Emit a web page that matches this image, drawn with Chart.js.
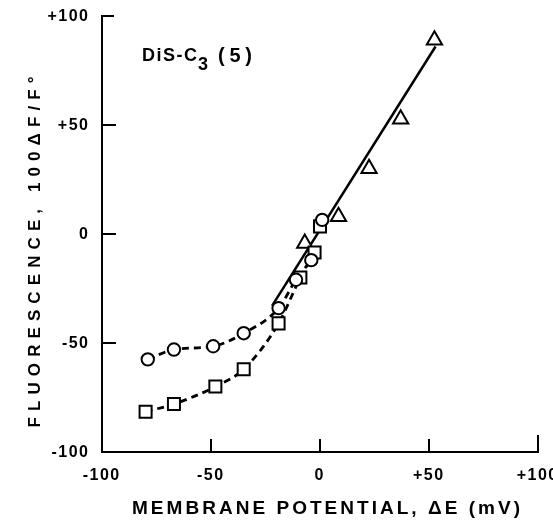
<!DOCTYPE html>
<html>
<head>
<meta charset="utf-8">
<script src="https://cdn.jsdelivr.net/npm/chart.js@4"></script>
<style>
	html, body { margin: 0; padding: 0; background: #fff; }
	canvas { display: block; }
</style>
</head>
<body>
<canvas id="chart" width="553" height="520"></canvas>
<script>
// values (x = membrane potential mV, y = 100 dF/F0)
const circleX = [-79, -67, -49, -35, -19, -11, -4, 1];
const circleY = [-57.5, -53, -51.5, -45.5, -34, -21, -12, 6.5];
const squareX = [-80, -67, -48, -35, -19, -9, -2.5, 0];
const squareY = [-81.5, -78, -70, -62, -41, -20, -8.5, 3.5];
const triangleX = [-7, 8.5, 22.5, 37, 52.5];
const triangleY = [-4.3, 8, 30, 52.7, 89];
const fitX = [-22, 53];
const fitY = [-33, 86];
// dashed curves run through the markers up to where they join the solid line
const circleCurveEnd = 7;
const squareCurveEnd = 7;

const xTicks = [-100, -50, 0, 50, 100];
const yTicks = [-100, -50, 0, 50, 100];

const xTitle = "MEMBRANE POTENTIAL, \u0394E (mV)";
const yTitle = "FLUORESCENCE, 100\u0394F/F\u00b0";

const FONT = '"Liberation Sans", Arial, sans-serif';

function pts(xs, ys, n){
	const out = [];
	const len = n || xs.length;
	for(let i = 0; i < len; i++){
		out.push({x: xs[i], y: ys[i]});
	}
	return out;
}

function fmt(v){
	return v > 0 ? "+" + v : String(v);
}

// draw text with the letters spread out to a given width
function spaced(ctx, text, x, y, width, align){
	const chars = Array.from(text);
	const widths = chars.map(c => ctx.measureText(c).width);
	const natural = widths.reduce((a, b) => a + b, 0);
	const gap = chars.length > 1 ? (width - natural) / (chars.length - 1) : 0;
	let cx = align == "center" ? x - width / 2 : (align == "right" ? x - width : x);
	ctx.textAlign = "left";
	chars.forEach((c, i) => {
		ctx.fillText(c, cx, y);
		cx += widths[i] + gap;
	});
}

const frame = {
	id: "frame",
	afterDraw(chart){
		const ctx = chart.ctx;
		const xs = chart.scales.x;
		const ys = chart.scales.y;
		const left = xs.left;
		const bottom = ys.bottom;

		ctx.save();
		ctx.strokeStyle = "#000";
		ctx.fillStyle = "#000";
		ctx.lineWidth = 2;
		ctx.lineCap = "square";

		// spines
		ctx.beginPath();
		ctx.moveTo(left, ys.getPixelForValue(100));
		ctx.lineTo(left, bottom);
		ctx.lineTo(xs.getPixelForValue(100), bottom);
		ctx.stroke();

		// inward ticks
		ctx.beginPath();
		yTicks.forEach(v => {
			if(v == -100) return;
			const py = ys.getPixelForValue(v);
			ctx.moveTo(left, py);
			ctx.lineTo(left + (v == 100 ? 11 : 13), py);
		});
		xTicks.forEach(v => {
			if(v == -100) return;
			const px = xs.getPixelForValue(v);
			ctx.moveTo(px, bottom);
			ctx.lineTo(px, bottom - (v == 100 ? 16 : 12));
		});
		ctx.stroke();

		// tick labels
		ctx.font = "bold 16px " + FONT;
		ctx.textBaseline = "middle";
		xTicks.forEach(v => {
			const s = fmt(v);
			const w = ctx.measureText(s).width + (s.length - 1) * 1.5;
			spaced(ctx, s, xs.getPixelForValue(v) - 1, 476, w, "center");
		});
		yTicks.forEach(v => {
			const s = fmt(v);
			const w = ctx.measureText(s).width + (s.length - 1) * 1.5;
			spaced(ctx, s, 88, ys.getPixelForValue(v) + 1, w, "right");
		});

		// axis titles
		ctx.font = "bold 19px " + FONT;
		spaced(ctx, xTitle, 326, 509, 388, "center");

		ctx.save();
		ctx.translate(34, 252);
		ctx.rotate(-Math.PI / 2);
		ctx.font = "bold 17px " + FONT;
		spaced(ctx, yTitle, 0, 1, 351, "center");
		ctx.restore();

		// dye label
		ctx.textBaseline = "alphabetic";
		ctx.font = "bold 18px " + FONT;
		spaced(ctx, "DiS-C", 142, 61, 55, "left");
		ctx.fillText("3", 198, 70);
		ctx.font = "bold 20px " + FONT;
		spaced(ctx, "(5)", 218, 62, 34, "left");

		ctx.restore();
	}
};

const marker = {
	borderColor: "#000",
	backgroundColor: "#fff",
	pointBorderWidth: 2,
	showLine: false,
	order: 0,
};

new Chart(document.getElementById("chart"), {
	type: "scatter",
	data: {
		datasets: [
			{
				data: pts(fitX, fitY),
				showLine: true,
				borderColor: "#000",
				borderWidth: 2.5,
				pointRadius: 0,
				order: 2,
			},
			{
				data: pts(circleX, circleY, circleCurveEnd),
				showLine: true,
				borderColor: "#000",
				borderWidth: 2.8,
				borderDash: [7, 5],
				cubicInterpolationMode: "monotone",
				pointRadius: 0,
				order: 1,
			},
			{
				data: pts(squareX, squareY, squareCurveEnd),
				showLine: true,
				borderColor: "#000",
				borderWidth: 2.8,
				borderDash: [7, 5],
				cubicInterpolationMode: "monotone",
				pointRadius: 0,
				order: 1,
			},
			Object.assign({}, marker, {
				data: pts(circleX, circleY),
				pointStyle: "circle",
				pointRadius: 6.2,
			}),
			Object.assign({}, marker, {
				data: pts(squareX, squareY),
				pointStyle: "rect",
				pointRadius: 8.5,
			}),
			Object.assign({}, marker, {
				data: pts(triangleX, triangleY),
				pointStyle: "triangle",
				pointRadius: 8.8,
			}),
		]
	},
	options: {
		responsive: false,
		animation: false,
		events: [],
		clip: false,
		layout: {
			padding: {top: 16, right: 15, left: 0, bottom: 0}
		},
		plugins: {
			legend: {display: false},
			tooltip: {enabled: false},
		},
		scales: {
			x: {
				type: "linear",
				min: -100,
				max: 100,
				grid: {display: false},
				border: {display: false},
				ticks: {display: false, stepSize: 50},
				afterFit(scale){ scale.height = 68; },
			},
			y: {
				type: "linear",
				min: -100,
				max: 100,
				grid: {display: false},
				border: {display: false},
				ticks: {display: false, stepSize: 50},
				afterFit(scale){ scale.width = 102; },
			},
		}
	},
	plugins: [frame]
});
</script>
</body>
</html>
